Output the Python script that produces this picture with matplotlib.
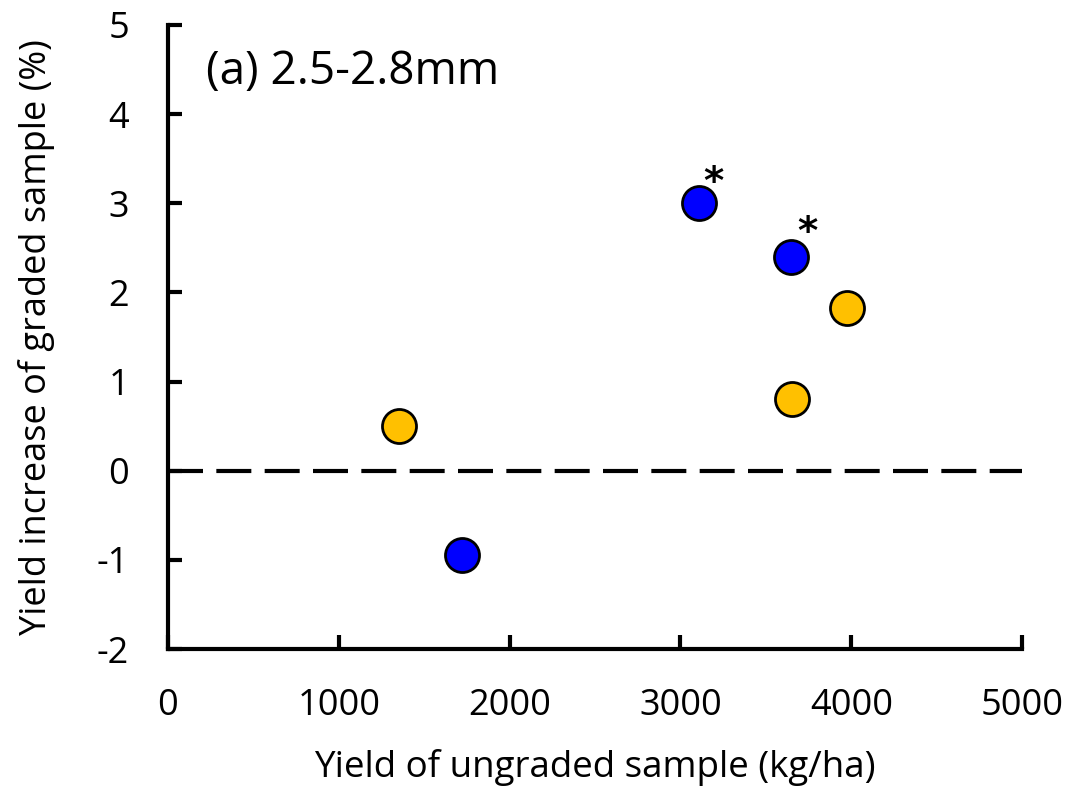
import numpy as np
import matplotlib.pyplot as plt
from matplotlib.ticker import FuncFormatter

plt.rcParams['font.family'] = ['Open Sans', 'DejaVu Sans']

# Data
blue_x = [1720, 3110, 3650]
blue_y = [-0.95, 3.0, 2.4]
orange_x = [1355, 3655, 3975]
orange_y = [0.5, 0.8, 1.83]
star_x = [3193, 3743]
star_y = [3.23, 2.67]

fig = plt.figure(figsize=(10.68, 7.91), dpi=100)
ax = fig.add_axes([0.1573, 0.1795, 0.7997, 0.7889])

ax.axhline(0, color='black', linestyle=(0, (8.4, 3.2)), linewidth=3, zorder=1)
ax.scatter(blue_x, blue_y, s=600, color='#0000FF', edgecolor='black', linewidth=2, zorder=3, clip_on=False)
ax.scatter(orange_x, orange_y, s=600, color='#FFC000', edgecolor='black', linewidth=2, zorder=3, clip_on=False)
for x, y in zip(star_x, star_y):
    ax.text(x, y, '*', fontsize=28, ha='center', va='center', family='DejaVu Sans', fontweight='bold')

ax.text(0.045, 0.925, '(a) 2.5-2.8mm', transform=ax.transAxes, fontsize=33, va='center', ha='left')

ax.set_xlim(0, 5000)
ax.set_ylim(-2, 5)
ax.set_xticks([0, 1000, 2000, 3000, 4000, 5000])
ax.set_yticks([-2, -1, 0, 1, 2, 3, 4, 5])
ax.yaxis.set_major_formatter(FuncFormatter(lambda v, p: '%d' % v))
ax.spines['top'].set_visible(False)
ax.spines['right'].set_visible(False)
ax.spines['left'].set_linewidth(3)
ax.spines['bottom'].set_linewidth(3)
ax.tick_params(direction='in', length=10, width=3, labelsize=26)
ax.tick_params(axis='y', pad=28)
ax.tick_params(axis='x', pad=28)
ax.set_xlabel('Yield of ungraded sample (kg/ha)', fontsize=26.5, labelpad=18)
ax.set_ylabel('Yield increase of graded sample (%)', fontsize=26, labelpad=30)

fig.savefig('out.png', dpi=100)
